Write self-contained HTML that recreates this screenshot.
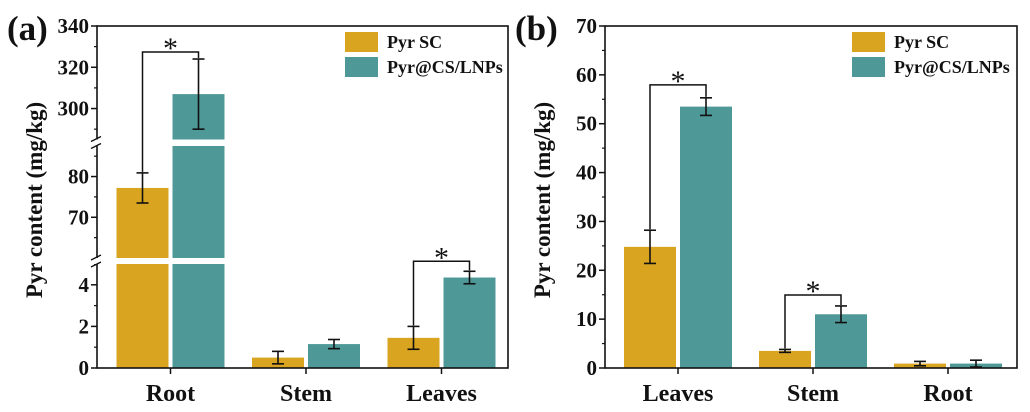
<!DOCTYPE html>
<html><head><meta charset="utf-8"><style>
html,body{margin:0;padding:0;background:#fff;}
svg{display:block;font-family:"Liberation Serif",serif;font-weight:bold;}
</style></head><body>
<svg id="chart" width="1030" height="412" viewBox="0 0 1030 412" xmlns="http://www.w3.org/2000/svg"></svg>
<script>
// Panel A data
const catsA = ["Root","Stem","Leaves"];
const scA = [77.2, 0.5, 1.45];
const scErrA = [3.7, 0.3, 0.55];
const lnpA = [307, 1.15, 4.35];
const lnpErrA = [17, 0.22, 0.3];
const sigA = [true, false, true];
const ticksA = [0,2,4,70,80,300,320,340];
// Panel B data
const catsB = ["Leaves","Stem","Root"];
const scB = [24.8, 3.5, 0.9];
const scErrB = [3.4, 0.3, 0.45];
const lnpB = [53.5, 11.0, 0.9];
const lnpErrB = [1.8, 1.7, 0.7];
const sigB = [true, true, false];
const ticksB = [0,10,20,30,40,50,60,70];

const NS="http://www.w3.org/2000/svg";
const svg=document.getElementById('chart');
const YEL="#D9A520", TEAL="#4E9898";
function mk(tag,attrs,parent){const e=document.createElementNS(NS,tag);for(const k in attrs)e.setAttribute(k,attrs[k]);(parent||svg).appendChild(e);return e;}

const segsA=[{v0:0,v1:5,p0:368,p1:264},{v0:60,v1:87.5,p0:258,p1:146},{v0:285,v1:340,p0:139.5,p1:26}];
function yA(v){for(const s of segsA){if(v<=s.v1||s===segsA[2]){return s.p0+(v-s.v0)*(s.p1-s.p0)/(s.v1-s.v0);}}}
function yB(v){return 368-v*(342/70);}

function panel(o){
  const g=mk('g',{});
  
  
  const step=o.step, x0=o.cx0;
  const cx=i=>x0+i*step;
  for(let i=0;i<o.cats.length;i++){
    const drawBar=(val,xl,col,nm)=>{
      if(o.broken){
        for(const s of segsA){
          if(val<=s.v0) continue;
          const top=yA(Math.min(val,s.v1)), bot=s.p0;
          const r=mk('rect',{x:xl,y:top,width:52,height:bot-top,fill:col},g);
          
          
        }
      } else {
        const r=mk('rect',{x:xl,y:o.y(val),width:52,height:368-o.y(val),fill:col},g);
        
        
      }
    };
    drawBar(o.sc[i],cx(i)-54,YEL,'bar-pyr-sc-'+o.cats[i].toLowerCase());
    drawBar(o.lnp[i],cx(i)+2,TEAL,'bar-pyr-lnps-'+o.cats[i].toLowerCase());
    const err=(v,e,xc,nm)=>{
      const y1=o.y(v+e),y2=o.y(v-e);
      const eg=mk('g',{stroke:'#111','stroke-width':1.6},g);
      
      
      mk('line',{x1:xc,x2:xc,y1:y1,y2:y2},eg);
      mk('line',{x1:xc-6,x2:xc+6,y1:y1,y2:y1},eg);
      mk('line',{x1:xc-6,x2:xc+6,y1:y2,y2:y2},eg);
    };
    err(o.sc[i],o.scErr[i],cx(i)-28,'error-bar-pyr-sc');
    err(o.lnp[i],o.lnpErr[i],cx(i)+28,'error-bar-pyr-lnps');
    if(o.sig[i]){
      const yl=o.y(o.sc[i]+o.scErr[i]), yr=o.y(o.lnp[i]+o.lnpErr[i]);
      const top=Math.min(yl,yr)-o.brk[i];
      const p=mk('path',{d:`M${cx(i)-28},${yl-1} V${top} H${cx(i)+28} V${yr-1}`,fill:'none',stroke:'#111','stroke-width':1.5},g);
      
      
      const t=mk('text',{x:cx(i),y:top+6,'text-anchor':'middle','font-size':30,'font-weight':'normal',fill:'#111'},g);
      t.textContent='*';
      
      
    }
    mk('line',{x1:cx(i),x2:cx(i),y1:368,y2:374,stroke:'#111','stroke-width':1.5},g);
    const tl=mk('text',{x:cx(i),y:401,'text-anchor':'middle','font-size':24,fill:'#111'},g);
    tl.textContent=o.cats[i];
    
    
  }
  const f=mk('rect',{x:o.L,y:26,width:o.R-o.L,height:342,fill:'none',stroke:'#111','stroke-width':1.6},g);
  
  
  for(const t of o.ticks){
    const y=o.y(t);
    mk('line',{x1:o.L-6,x2:o.L,y1:y,y2:y,stroke:'#111','stroke-width':1.5},g);
    const tx=mk('text',{x:o.L-8,y:y+7,'text-anchor':'end','font-size':21,fill:'#111'},g);
    tx.textContent=t;
    
    
  }
  for(const m of o.minor){const y=o.y(m);mk('line',{x1:o.L-3,x2:o.L,y1:y,y2:y,stroke:'#111','stroke-width':1.2},g);}
  if(o.broken){
    for(const yb of [142.5,261]){
      mk('rect',{x:o.L-8,y:yb-3,width:14,height:6,fill:'#fff'},g);
      mk('line',{x1:o.L-6,x2:o.L+4,y1:yb-1,y2:yb-6,stroke:'#111','stroke-width':1.3},g);
      mk('line',{x1:o.L-6,x2:o.L+4,y1:yb+6,y2:yb+1,stroke:'#111','stroke-width':1.3},g);
    }
  }
  const yt=mk('text',{x:0,y:0,transform:`translate(${o.L-55},200) rotate(-90)`,'text-anchor':'middle','font-size':23,fill:'#111'},g);
  yt.textContent='Pyr content (mg/kg)';
  
  
  const pl=mk('text',{x:o.L-90,y:40,'font-size':35,fill:'#111'},g);
  pl.textContent=o.label;
  
  
  const lg=mk('g',{},g);
  
  
  [[YEL,'Pyr SC',32],[TEAL,'Pyr@CS/LNPs',57]].forEach(([c,n,y])=>{
    mk('rect',{x:o.lx,y:y,width:33,height:20,fill:c},lg);
    const t=mk('text',{x:o.lx+42,y:y+16,'font-size':18,fill:'#111'},lg);
    t.textContent=n;
    
    
  });
}
panel({name:'panel-a',label:'(a)',cats:catsA,sc:scA,scErr:scErrA,lnp:lnpA,lnpErr:lnpErrA,sig:sigA,brk:[7,0,10],
  ticks:ticksA,minor:[1,3,5,65,75,85,290,310,330],y:yA,broken:true,L:97,R:508,cx0:170.5,step:135.5,lx:345});
panel({name:'panel-b',label:'(b)',cats:catsB,sc:scB,scErr:scErrB,lnp:lnpB,lnpErr:lnpErrB,sig:sigB,brk:[13,11,0],
  ticks:ticksB,minor:[5,15,25,35,45,55,65],y:yB,broken:false,L:605,R:1017,cx0:678,step:135,lx:852});
</script>
</body></html>
